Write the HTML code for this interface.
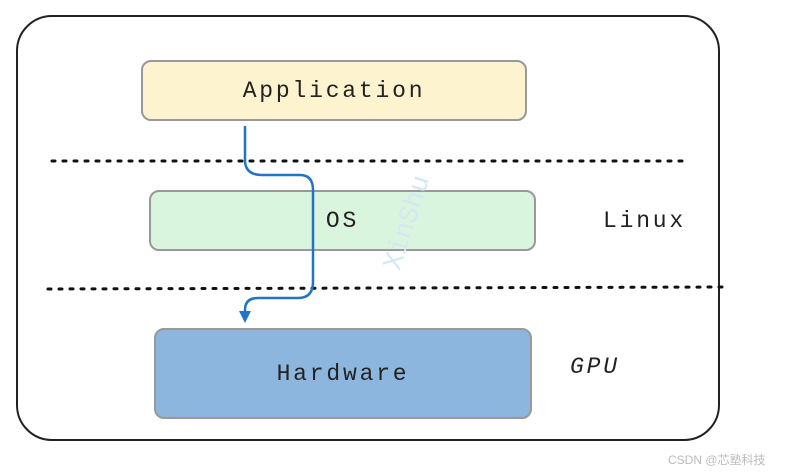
<!DOCTYPE html>
<html><head><style>
body{margin:0;background:#fff;width:786px;height:473px;overflow:hidden;position:relative;font-family:"Liberation Mono",monospace;}
.b{position:absolute;box-sizing:border-box;border:2px solid #999;border-radius:10px;display:flex;align-items:center;justify-content:center;font-size:23px;letter-spacing:2.8px;color:#222;}
.t{position:absolute;font-size:23px;letter-spacing:2.8px;color:#222;}
</style></head><body>
<div style="position:absolute;left:16px;top:15px;width:704px;height:426px;box-sizing:border-box;border:2px solid #222;border-radius:36px;"></div>
<div class="b" style="left:141px;top:60px;width:386px;height:61px;background:#fdf3cf;">Application</div>
<div class="b" style="left:149px;top:190px;width:387px;height:61px;background:#daf5de;">OS</div>
<div class="b" style="left:154px;top:328px;width:378px;height:91px;background:#8db6de;">Hardware</div>
<div class="t" style="left:603px;top:208px;">Linux</div>
<div class="t" style="left:570px;top:354px;font-style:italic;">GPU</div>
<div style="position:absolute;left:360px;top:208px;transform:rotate(-72deg);font-size:27px;color:#d4e8f4;">XinShu</div>
<svg width="786" height="473" style="position:absolute;left:0;top:0">
<line x1="52" y1="161" x2="688" y2="161" stroke="#111" stroke-width="3" stroke-dasharray="3,8" stroke-linecap="round"/>
<line x1="48" y1="289" x2="726" y2="287" stroke="#111" stroke-width="3" stroke-dasharray="3,8" stroke-linecap="round"/>
<path d="M245 126 L245 160 Q245 175 262 175 L300 175 Q313 175 313 190 L313 282 Q313 298 298 298 L258 298 Q245 298 245 310 L245 312" fill="none" stroke="#1f75c8" stroke-width="2.5"/>
<polygon points="239,311 251,311 245,323" fill="#1f75c8"/>
</svg>
<div style="position:absolute;left:668px;top:451px;font-family:'Liberation Sans','Noto Sans CJK SC',sans-serif;font-size:12px;color:#bbb;">CSDN @芯塾科技</div>
</body></html>
